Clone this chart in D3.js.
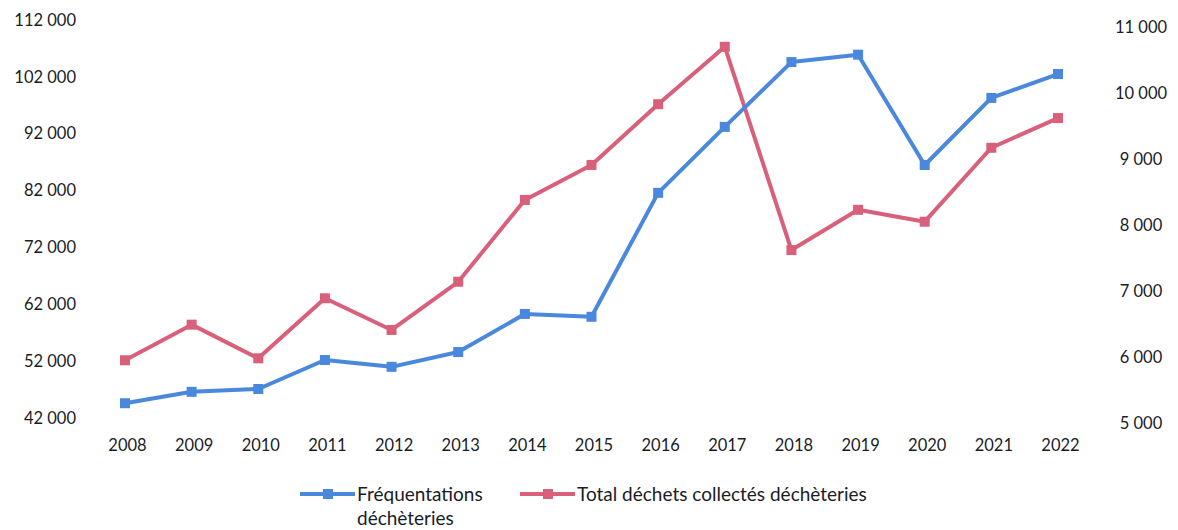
<!DOCTYPE html>
<html><head><meta charset="utf-8">
<script src="https://cdn.jsdelivr.net/npm/d3@7/dist/d3.min.js"></script>
<style>
html,body{margin:0;padding:0;background:#fff;}
svg text{font-family:Lato,"Open Sans",sans-serif;fill:#1a1c26;}
</style></head>
<body><svg id="c" width="1178" height="530"></svg>
<script>
const years = ["2008","2009","2010","2011","2012","2013","2014","2015","2016","2017","2018","2019","2020","2021","2022"];
const frequentations = [44600,46600,47100,52200,51000,53600,60300,59800,81600,93200,104600,105900,86500,98300,102500];
const dechets = [5950,6490,5980,6890,6410,7140,8380,8910,9830,10700,7620,8230,8050,9170,9620];
const leftTicks = [42000,52000,62000,72000,82000,92000,102000,112000];
const rightTicks = [5000,6000,7000,8000,9000,10000,11000];
const seriesNames = [["Fréquentations","déchèteries"],["Total déchets collectés déchèteries"]];
const colors = ["#4a88de","#d9607a"];

const svg = d3.select("#c");
const loc = d3.formatLocale({decimal:",",thousands:" ",grouping:[3],currency:["","€"]});
const fmt = loc.format(",d");

const x = d3.scalePoint().domain(years).range([125,1058]);
const yL = d3.scaleLinear().domain([42000,112000]).range([418,20]);
const yR = d3.scaleLinear().domain([5000,11000]).range([423,27]);

const gl = svg.append("g").attr("transform","translate(76,0)")
  .call(d3.axisLeft(yL).tickValues(leftTicks).tickFormat(fmt).tickSize(0).tickPadding(0));
gl.select(".domain").remove();
gl.selectAll("text").style("font-size","16.5px").style("font-family","Lato,sans-serif").attr("fill","#1a1c26");

const gr = svg.append("g").attr("transform","translate(1141,0)")
  .call(d3.axisRight(yR).tickValues(rightTicks).tickFormat(fmt).tickSize(0).tickPadding(0));
gr.select(".domain").remove();
gr.selectAll("text").attr("text-anchor","middle").style("font-size","16.5px").style("font-family","Lato,sans-serif").attr("fill","#1a1c26");

const gx = svg.append("g").attr("transform","translate(2,439)")
  .call(d3.axisBottom(x).tickSize(0).tickPadding(0));
gx.select(".domain").remove();
gx.selectAll("text").attr("dy","0.71em").style("font-size","16.5px").style("font-family","Lato,sans-serif").attr("fill","#1a1c26");

function drawSeries(vals, yS, col){
  const line = d3.line().x((d,i)=>x(years[i])).y(d=>yS(d));
  svg.append("path").datum(vals).attr("d",line).attr("fill","none")
    .attr("stroke",col).attr("stroke-width",4).attr("stroke-linejoin","round");
  svg.append("g").selectAll("rect").data(vals).join("rect")
    .attr("x",(d,i)=>x(years[i])-5).attr("y",d=>yS(d)-5)
    .attr("width",10).attr("height",10).attr("fill",col);
}
drawSeries(dechets, yR, colors[1]);
drawSeries(frequentations, yL, colors[0]);

// legend
const legX = [300,520];
seriesNames.forEach((lines,k)=>{
  const g = svg.append("g");
  const lx = legX[k];
  g.append("line").attr("x1",lx).attr("x2",lx+55).attr("y1",494).attr("y2",494)
    .attr("stroke",colors[k]).attr("stroke-width",4);
  g.append("rect").attr("x",lx+23).attr("y",489).attr("width",10).attr("height",10).attr("fill",colors[k]);
  const t = g.append("text").attr("x",lx+57).attr("y",501).style("font-size","19px");
  lines.forEach((s,j)=>t.append("tspan").attr("x",lx+57).attr("dy", j===0?0:24).text(s));
});
</script></body></html>
